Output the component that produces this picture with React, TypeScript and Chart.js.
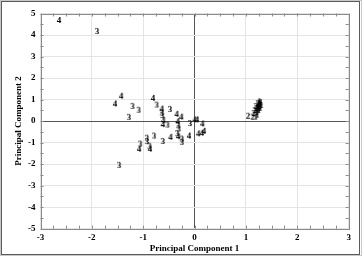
import React, { useEffect, useRef } from 'react';
import { Chart, registerables } from 'chart.js';

Chart.register(...registerables);

const xTickValues = [-3, -2, -1, 0, 1, 2, 3];
const yTickValues = [-5, -4, -3, -2, -1, 0, 1, 2, 3, 4, 5];
const xTitle = 'Principal Component 1';
const yTitle = 'Principal Component 2';

const groupLabels = ['1', '2', '3', '4'];

const group1: [number, number][] = [
  [1.19, 0.21], [1.21, 0.42], [1.25, 0.6], [1.27, 0.79], [1.29, 0.88],
  [1.23, 0.74], [1.25, 0.51], [1.27, 0.7], [1.22, 0.3], [1.26, 0.85],
  [1.24, 0.66], [1.28, 0.62], [1.3, 0.75], [1.22, 0.55], [1.26, 0.92],
];
const group2: [number, number][] = [
  [1.04, 0.25], [1.13, 0.21], [1.17, 0.51], [1.19, 0.7], [1.23, 0.84], [1.15, 0.38],
  [1.2, 0.6], [1.24, 0.78],
];
const group3: [number, number][] = [
  [-1.9, 4.19], [-1.21, 0.71], [-1.09, 0.53], [-1.28, 0.2], [-0.74, 0.77],
  [-0.64, 0.4], [-0.63, 0.28], [-0.48, 0.57], [-0.53, -0.16], [-0.32, -0.19],
  [-0.31, -0.34], [-0.09, -0.09], [-0.79, -0.67], [-0.62, -0.92], [-0.34, -0.56],
  [-0.25, -0.81], [-0.25, -0.96], [-0.93, -0.77], [-0.93, -0.93], [-1.06, -1.04],
  [-0.88, -1.14], [-1.47, -2.03],
];
const group4: [number, number][] = [
  [-2.64, 4.7], [-1.43, 1.18], [-1.55, 0.82], [-0.81, 1.08], [-0.64, 0.58],
  [-0.35, 0.34], [-0.26, 0.21], [-0.61, 0.05], [-0.62, -0.14], [-0.33, 0.0],
  [0.0, 0.08], [0.045, 0.08], [0.15, -0.11], [0.18, -0.45], [0.14, -0.54],
  [0.07, -0.57], [-0.11, -0.67], [-0.47, -0.73], [-0.32, -0.7], [-0.87, -1.28],
  [-1.08, -1.28],
];

const groups = [group1, group2, group3, group4];

function digitImage(label: string): HTMLCanvasElement {
  const c = document.createElement('canvas');
  c.width = 8;
  c.height = 10;
  const ctx = c.getContext('2d')!;
  ctx.font = 'bold 9px "Liberation Serif", serif';
  ctx.fillStyle = '#000';
  ctx.textAlign = 'center';
  ctx.textBaseline = 'middle';
  ctx.fillText(label, 4, 5.5);
  return c;
}

const framePlugin = {
  id: 'frame',
  beforeDraw(chart: any) {
    const ctx = chart.ctx;
    ctx.save();
    ctx.fillStyle = '#fff';
    ctx.fillRect(0, 0, chart.width, chart.height);
    ctx.restore();
  },
  afterDraw(chart: any) {
    const ctx = chart.ctx;
    const { left, right, top, bottom } = chart.chartArea;
    const xs = chart.scales.x;
    const ys = chart.scales.y;
    ctx.save();
    ctx.strokeStyle = '#8a8a8a';
    ctx.lineWidth = 1;
    ctx.strokeRect(Math.round(left) + 0.5, Math.round(top) + 0.5, Math.round(right - left), Math.round(bottom - top));
    ctx.beginPath();
    for (let v = -3; v <= 3.001; v += 0.25) {
      const px = Math.round(xs.getPixelForValue(v)) + 0.5;
      ctx.moveTo(px, top);
      ctx.lineTo(px, top + 3);
      ctx.moveTo(px, bottom);
      ctx.lineTo(px, bottom - 3);
    }
    for (let v = -5; v <= 5.001; v += 0.5) {
      const py = Math.round(ys.getPixelForValue(v)) + 0.5;
      ctx.moveTo(left, py);
      ctx.lineTo(left + 3, py);
      ctx.moveTo(right, py);
      ctx.lineTo(right - 3, py);
    }
    ctx.stroke();
    ctx.strokeStyle = '#5a5a5a';
    ctx.strokeRect(1.5, 1.5, 358, 253);
    ctx.strokeStyle = '#c8c8c8';
    ctx.strokeRect(0.5, 0.5, 361, 255);
    ctx.restore();
  },
};

export default function App() {
  const ref = useRef<HTMLCanvasElement | null>(null);
  useEffect(() => {
    if (!ref.current) return;
    const font = { family: '"Liberation Serif", serif', size: 9, weight: 'bold' as const };
    const chart = new Chart(ref.current, {
      type: 'scatter',
      data: {
        datasets: groups.map((g, i) => ({
          label: groupLabels[i],
          data: g.map(([x, y]) => ({ x, y })),
          pointStyle: digitImage(groupLabels[i]),
          pointRadius: 4,
        })),
      },
      options: {
        animation: false,
        responsive: true,
        maintainAspectRatio: false,
        layout: { padding: { left: 0, top: 13.5, right: 15.3, bottom: 0 } },
        plugins: { legend: { display: false }, tooltip: { enabled: false } },
        scales: {
          x: {
            type: 'linear',
            min: -3,
            max: 3,
            afterBuildTicks: (s: any) => { s.ticks = xTickValues.map((v) => ({ value: v })); },
            afterFit: (s: any) => { s.height = 28.3; },
            ticks: { font, color: '#000', padding: 4, callback: (v: any) => String(v) },
            grid: {
              drawTicks: false,
              color: (c: any) => (c.tick && c.tick.value === 0 ? '#555' : '#e4e4e4'),
            },
            border: { display: false },
            title: { display: true, text: xTitle, font, color: '#000', padding: { top: 0, bottom: 2.5 } },
          },
          y: {
            type: 'linear',
            min: -5,
            max: 5,
            afterBuildTicks: (s: any) => { s.ticks = yTickValues.map((v) => ({ value: v })); },
            afterFit: (s: any) => { s.width = 40.5; },
            ticks: { font, color: '#000', padding: 5, callback: (v: any) => String(v) },
            grid: {
              drawTicks: false,
              color: (c: any) => (c.tick && c.tick.value === 0 ? '#555' : '#e4e4e4'),
            },
            border: { display: false },
            title: { display: true, text: yTitle, font, color: '#000', padding: { top: 13.6, bottom: 0 } },
          },
        },
      },
      plugins: [framePlugin],
    });
    return () => chart.destroy();
  }, []);
  return (
    <div style={{ position: 'fixed', left: 0, top: 0, width: 364, height: 257 }}>
      <canvas ref={ref} />
    </div>
  );
}
